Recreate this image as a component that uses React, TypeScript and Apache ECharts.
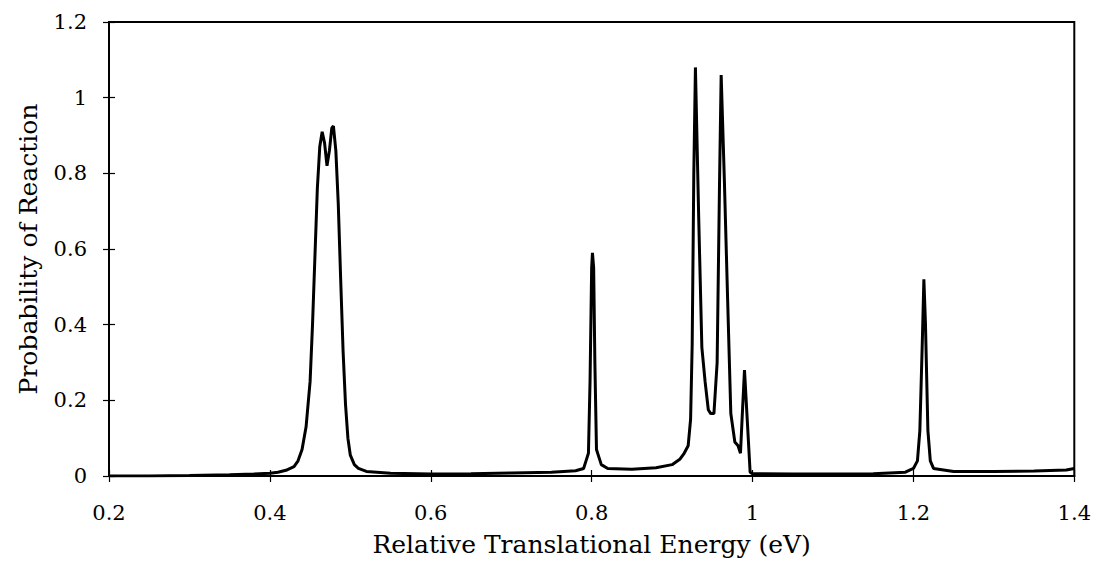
import React, { useEffect, useRef } from "react";
import * as echarts from "echarts";

const energy = [
  0.2, 0.25, 0.3, 0.35, 0.38, 0.4, 0.41, 0.42, 0.43, 0.435, 0.44, 0.445, 0.45, 0.453, 0.456, 0.459,
  0.462, 0.465, 0.468, 0.471, 0.474, 0.477, 0.479, 0.482, 0.485, 0.488, 0.491, 0.494, 0.497, 0.5,
  0.505, 0.51, 0.52, 0.55, 0.6, 0.65, 0.7, 0.75, 0.78, 0.79, 0.793, 0.796, 0.798, 0.8, 0.801,
  0.8025, 0.804, 0.806, 0.809, 0.812, 0.82, 0.85, 0.88, 0.9, 0.91, 0.915, 0.92, 0.923, 0.925,
  0.927, 0.929, 0.933, 0.937, 0.941, 0.945, 0.948, 0.952, 0.956, 0.959, 0.961, 0.965, 0.969,
  0.973, 0.978, 0.982, 0.985, 0.987, 0.99, 0.993, 0.997, 1.0, 1.05, 1.1, 1.15, 1.19, 1.2, 1.205,
  1.208, 1.211, 1.213, 1.215, 1.218, 1.221, 1.225, 1.25, 1.3, 1.35, 1.39, 1.4,
];
const probability = [
  0.0, 0.0, 0.001, 0.003, 0.005, 0.007, 0.01, 0.015, 0.025, 0.04, 0.07, 0.13, 0.25, 0.4, 0.58, 0.76,
  0.87, 0.91, 0.88, 0.82, 0.86, 0.92, 0.925, 0.86, 0.72, 0.52, 0.33, 0.19, 0.1, 0.055,
  0.03, 0.02, 0.012, 0.007, 0.005, 0.006, 0.008, 0.01, 0.014, 0.02, 0.04, 0.06, 0.25, 0.55, 0.59,
  0.55, 0.3, 0.07, 0.05, 0.03, 0.02, 0.018, 0.022, 0.03, 0.045, 0.06, 0.08, 0.15, 0.35,
  0.8, 1.08, 0.69, 0.34, 0.25, 0.175, 0.165, 0.165, 0.3, 0.78, 1.06, 0.78, 0.47,
  0.165, 0.09, 0.08, 0.06, 0.15, 0.28, 0.165, 0.01, 0.006, 0.005, 0.005, 0.006, 0.01, 0.02, 0.04,
  0.12, 0.35, 0.52, 0.4, 0.12, 0.04, 0.02, 0.012, 0.012, 0.013, 0.016, 0.02,
];

const xTicks = ["0.2", "0.4", "0.6", "0.8", "1", "1.2", "1.4"];
const yTicks = ["0", "0.2", "0.4", "0.6", "0.8", "1", "1.2"];

const FONT = "DejaVu Serif";

export default function App() {
  const ref = useRef<HTMLDivElement>(null);
  useEffect(() => {
    if (!ref.current) return;
    const chart = echarts.init(ref.current, undefined, { renderer: "svg" });
    const data = energy.map((e, i) => [e, probability[i]]);
    const xLabel = (v: number) => {
      const s = String(Math.round(v * 10) / 10);
      return xTicks.includes(s) ? s : "";
    };
    const yLabel = (v: number) => {
      const s = String(Math.round(v * 10) / 10);
      return yTicks.includes(s) ? s : "";
    };
    chart.setOption({
      animation: false,
      backgroundColor: "#fff",
      grid: {
        left: 92,
        right: 6,
        top: 14,
        bottom: 80,
        show: true,
        borderColor: "#000",
        borderWidth: 2,
      },
      xAxis: [
        {
          type: "value",
          min: 0.2,
          max: 1.4,
          interval: 0.2,
          name: "Relative Translational Energy (eV)",
          nameLocation: "middle",
          nameGap: 56,
          nameTextStyle: { fontFamily: FONT, fontSize: 25, color: "#000" },
          axisLine: { show: true, lineStyle: { color: "#000", width: 2 } },
          axisTick: { show: true, length: 6, lineStyle: { color: "#000", width: 1.2 } },
          axisLabel: {
            formatter: xLabel,
            fontFamily: FONT,
            fontSize: 21,
            color: "#000",
            margin: 26,
          },
          splitLine: { show: false },
        },
        {
          type: "value",
          position: "bottom",
          min: 0.2,
          max: 1.4,
          interval: 0.2,
          axisLine: { show: false },
          axisTick: { show: true, inside: true, length: 6, lineStyle: { color: "#000", width: 1.2 } },
          axisLabel: { show: false },
          splitLine: { show: false },
        },
      ],
      yAxis: [
        {
          type: "value",
          min: 0,
          max: 1.2,
          interval: 0.2,
          name: "Probability of Reaction",
          nameLocation: "middle",
          nameGap: 68,
          nameTextStyle: { fontFamily: FONT, fontSize: 25, color: "#000" },
          axisLine: { show: true, lineStyle: { color: "#000", width: 2 } },
          axisTick: { show: true, length: 6, lineStyle: { color: "#000", width: 1.2 } },
          axisLabel: {
            formatter: yLabel,
            fontFamily: FONT,
            fontSize: 21,
            color: "#000",
            margin: 22,
          },
          splitLine: { show: false },
        },
        {
          type: "value",
          position: "left",
          min: 0,
          max: 1.2,
          interval: 0.2,
          axisLine: { show: false },
          axisTick: { show: true, inside: true, length: 6, lineStyle: { color: "#000", width: 1.2 } },
          axisLabel: { show: false },
          splitLine: { show: false },
        },
      ],
      series: [
        {
          type: "line",
          data,
          showSymbol: false,
          lineStyle: { color: "#000", width: 3 },
          itemStyle: { color: "#000" },
        },
      ],
    });
    return () => chart.dispose();
  }, []);
  return <div ref={ref} style={{ width: 1086, height: 554 }} />;
}
